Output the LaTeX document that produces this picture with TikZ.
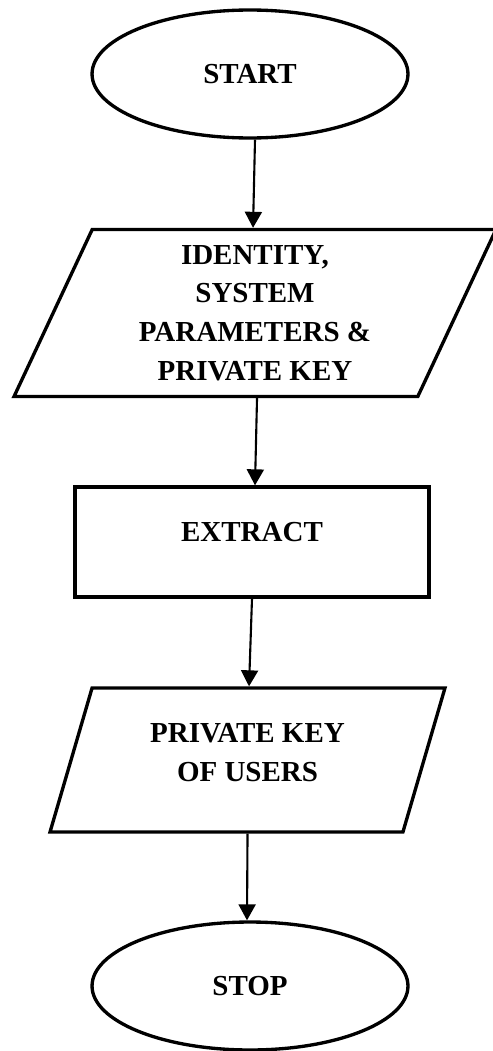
\documentclass[tikz,border=0pt]{standalone}
\usepackage{fontspec}
\setmainfont{Liberation Serif}
\usetikzlibrary{shapes.geometric,arrows.meta}

\begin{document}
\begin{tikzpicture}[>={Triangle[length=0.32cm,width=0.34cm]}, x=0.02cm, y=-0.02cm,
  font=\fontsize{16.5}{22}\selectfont\bfseries,
  terminal/.style={draw, ellipse, line width=1.9pt, minimum width=6.32cm, minimum height=2.56cm, inner sep=0pt},
  io/.style={draw, trapezium, trapezium left angle=60, trapezium right angle=120,
    trapezium stretches body, line width=1.9pt, align=center, inner sep=0pt},
  process/.style={draw, rectangle, line width=1.9pt, minimum width=7.08cm, minimum height=2.2cm},
  flow/.style={->, line width=1.2pt}]

\useasboundingbox (0,0) rectangle (493,1051);

% START
\node[terminal] (start) at (250,74) {START};

% Input: identity and parameters
\node[io, minimum width=9.64cm, minimum height=3.34cm] (input) at (255,313)
  {IDENTITY,\\ SYSTEM\\ PARAMETERS \&\\ PRIVATE KEY};

% Extract step
\node[process, text depth=0.4cm] (extract) at (252,542) {EXTRACT};

% Output: private key
\node[io, minimum width=7.9cm, minimum height=2.88cm, text depth=0.3cm] (output) at (247.5,760)
  {PRIVATE KEY\\ OF USERS};

% STOP
\node[terminal] (stop) at (250,986) {STOP};

% Arrows
\draw[flow] ([xshift=0.1cm]start.south) -- ([xshift=-0.04cm]input.north);
\draw[flow] ([xshift=0.04cm]input.south) -- ([xshift=0.06cm]extract.north);
\draw[flow] (extract.south) -- ([xshift=0.03cm]output.north);
\draw[flow] (output.south) -- ([xshift=-0.06cm]stop.north);

\end{tikzpicture}
\end{document}
